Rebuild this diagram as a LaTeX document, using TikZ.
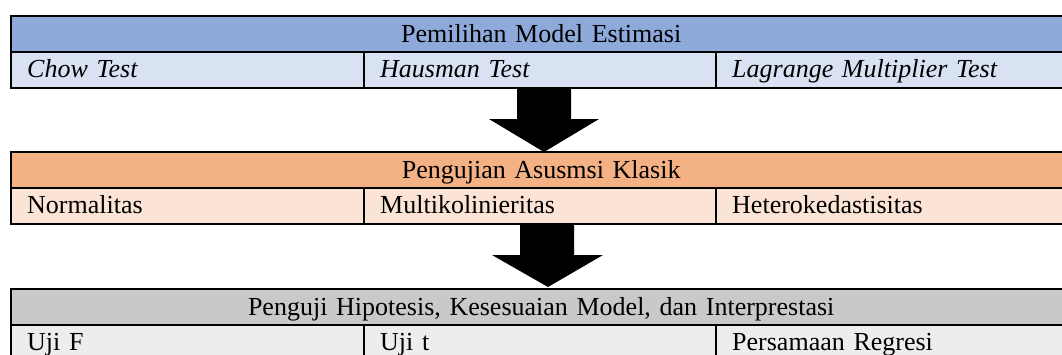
\documentclass[tikz,border=0pt]{standalone}
\usepackage{fontspec}
\setmainfont{Liberation Serif}
\definecolor{bhead}{HTML}{8EAADB}
\definecolor{brow}{HTML}{D9E2F3}
\definecolor{ohead}{HTML}{F4B183}
\definecolor{orow}{HTML}{FBE4D5}
\definecolor{ghead}{HTML}{C9C9C9}
\definecolor{grow}{HTML}{EDEDED}
\begin{document}
\begin{tikzpicture}[x=1pt,y=-1pt,
  every node/.style={font=\fontsize{26}{29}\selectfont},
  hcell/.style={draw=black, line width=2.4pt, anchor=north west, minimum width=1060pt, minimum height=36pt, inner sep=0pt, text width=1060pt, align=center, text height=22pt, text depth=6pt},
  cell/.style={draw=black, line width=2.4pt, anchor=north west, minimum height=36pt, inner ysep=0pt, inner xsep=16pt, align=left, text height=21pt, text depth=7pt},
  blockarrow/.style={fill=black, draw=none}]
\useasboundingbox (0,0) rectangle (1062,354);
% Table 1
\node[hcell, fill=bhead] (h1) at (10,15) {Pemilihan Model Estimasi};
\node[cell, fill=brow, text width=321pt, minimum width=353pt] (c11) at (10,51) {\itshape Chow Test};
\node[cell, fill=brow, text width=320pt, minimum width=352pt] (c12) at (363,51) {\itshape Hausman Test};
\node[cell, fill=brow, text width=328pt, minimum width=360pt] (c13) at (715,51) {\itshape Lagrange Multiplier Test};
% Arrow 1
\fill[blockarrow] (517,87) -- (571,87) -- (571,119) -- (599,119) -- (544,152) -- (489,119) -- (517,119) -- cycle;
% Table 2
\node[hcell, fill=ohead] (h2) at (10,151) {Pengujian Asusmsi Klasik};
\node[cell, fill=orow, text width=321pt, minimum width=353pt] (c21) at (10,187) {Normalitas};
\node[cell, fill=orow, text width=320pt, minimum width=352pt] (c22) at (363,187) {Multikolinieritas};
\node[cell, fill=orow, text width=328pt, minimum width=360pt] (c23) at (715,187) {Heterokedastisitas};
% Arrow 2
\fill[blockarrow] (520,224) -- (574,224) -- (574,255) -- (603,255) -- (548,287) -- (492,255) -- (520,255) -- cycle;
% Table 3
\node[hcell, fill=ghead] (h3) at (10,288) {Penguji Hipotesis, Kesesuaian Model, dan Interprestasi};
\node[cell, fill=grow, text width=321pt, minimum width=353pt] (c31) at (10,324) {Uji F};
\node[cell, fill=grow, text width=320pt, minimum width=352pt] (c32) at (363,324) {Uji t};
\node[cell, fill=grow, text width=328pt, minimum width=360pt] (c33) at (715,324) {Persamaan Regresi};
\end{tikzpicture}
\end{document}
